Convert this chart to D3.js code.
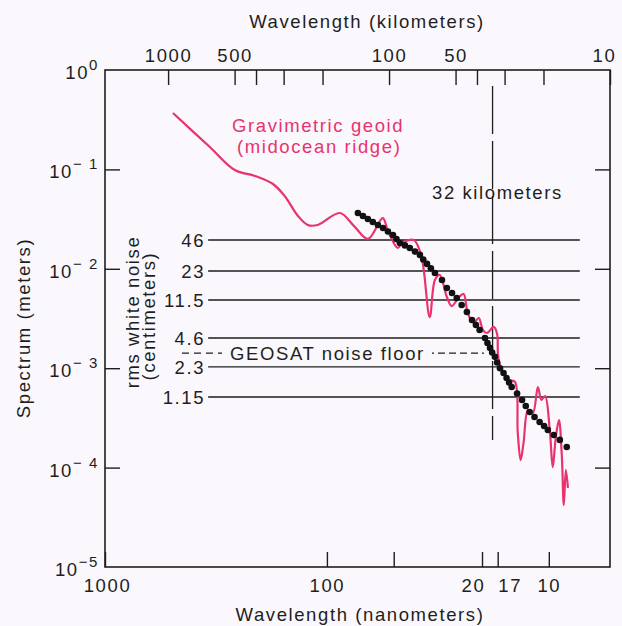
<!DOCTYPE html>
<html><head><meta charset="utf-8">
<script src="https://cdn.jsdelivr.net/npm/d3@7"></script>
<style>
html,body{margin:0;padding:0;background:#faf8fc;}
svg{display:block;font-family:"Liberation Sans",Arial,Helvetica,sans-serif;}
</style></head><body><svg id="c" width="622" height="626"></svg>
<script>
// ---- data (bottom axis: wavelength, nm; left axis: spectrum, m) ----
const geoidNm   = [494,337,260,211,175,155,135,122,110,87.4,75.6,65.3,56.0,53.1,47.9,45.9,40.6,38.9,37.0,34.4,32.6,31.0,28.8,27.4,25.4,24.2,23.2,21.8,20.7,19.8,19.0,17.7,17.1,16.9,16.1,15.0,14.2,13.8,13.4,13.0,12.4,11.8,11.2,10.8,10.4,9.9,9.6,9.3,9.0,8.74,8.56,8.38,8.20];
const geoidSpec = [0.369,0.168,0.0986,0.0859,0.0713,0.054,0.034,0.0276,0.0276,0.0364,0.027,0.020,0.0324,0.024,0.0162,0.0182,0.0195,0.0170,0.0114,0.00327,0.0077,0.00866,0.0052,0.00422,0.0052,0.00558,0.00359,0.00285,0.0032,0.00242,0.00226,0.00260,0.00221,0.0013,0.000895,0.00076,0.000726,0.000223,0.000119,0.000177,0.000380,0.000354,0.000647,0.000479,0.000525,0.000239,0.000101,0.000203,0.000301,0.000134,0.000042,0.0000946,0.0000624];
const modelNm   = [72.5,68.8,65.4,62.1,58.9,55.9,53.1,50.4,48.6,46.9,44.5,42.3,40.1,38.1,36.8,35.4,34.0,32.6,30.3,28.8,27.3,26.0,24.7,23.4,22.2,21.3,20.5,19.4,18.9,18.4,18.0,17.5,17.1,16.6,16.0,15.5,15.1,14.7,13.9,13.2,12.7,12.2,11.6,11.0,10.5,10.1,9.50,8.92,8.30];
const modelSpec = [0.0364,0.0340,0.0317,0.0296,0.0276,0.0257,0.0237,0.0219,0.0199,0.0182,0.0172,0.0162,0.0149,0.0138,0.0124,0.0112,0.0101,0.00907,0.00771,0.00641,0.00571,0.00508,0.00432,0.00368,0.00305,0.00272,0.00242,0.00201,0.00179,0.00160,0.00144,0.00130,0.00114,0.00100,0.000895,0.000797,0.000718,0.000647,0.000557,0.000479,0.000417,0.000363,0.000323,0.000288,0.000262,0.000239,0.000213,0.000190,0.000161];
const noiseLabels = ["46","23","11.5","4.6","2.3","1.15"];
const noiseSpec   = [0.0195,0.0095,0.00485,0.00201,0.00103,0.000513];
const geosatFloor = 0.00142;
const yTicks  = [1,0.1,0.01,0.001,0.0001,0.00001];
const yExpLabels = ["0","− 1","− 2","− 3","− 4","−5"];
const bottomTicks  = [1000,100,50,20,17,10];
const bottomLabels = ["1000","100","","20","17","10"];
const topTicks  = [1000,500,400,300,200,100,50,40,30,20,10];
const topLabels = ["1000","500","","","","100","50","","","","10"];
const markerKm = 34;
const markerLabel = "32 kilometers";

// ---- layout ----
const W=622,H=626, L=105, R=610, T=70, B=567;
const ink="#1e1e1e", pink="#e8336f";
const svg=d3.select("#c");
svg.append("rect").attr("width",W).attr("height",H).attr("fill","#faf8fc");

const x=d3.scaleLog().domain([1000,5.3]).range([L,R]);
const xTop=d3.scaleLog().domain([1930,10]).range([L,R]);
const y=d3.scaleLog().domain([1e-5,1]).range([B,T]);

const fs=18.5, ls="1.6px";
function styleAxis(g){
  g.select(".domain").remove();
  g.selectAll(".tick line").attr("stroke",ink).attr("stroke-width",1.4);
  g.selectAll(".tick text").attr("fill",ink).attr("font-size",fs).attr("letter-spacing",ls).attr("font-family",null);
}

// top axis
const gt=svg.append("g").attr("transform",`translate(0,${T})`)
  .call(d3.axisTop(xTop).tickValues(topTicks).tickSize(-15).tickPadding(8)
    .tickFormat((d,i)=>topLabels[i]))
  .call(styleAxis);
gt.selectAll(".tick text").attr("dx",d=>d===10?-6:0);
// bottom axis
const gb=svg.append("g").attr("transform",`translate(0,${B})`)
  .call(d3.axisBottom(x).tickValues(bottomTicks).tickSize(-15).tickPadding(12)
    .tickFormat((d,i)=>bottomLabels[i]))
  .call(styleAxis);
gb.selectAll(".tick text").attr("dx",d=>d===20?-9:d===17?12:d===1000?2:0);
// left axis
svg.append("g").attr("transform",`translate(${L},0)`)
  .call(d3.axisLeft(y).tickValues(yTicks.slice(1,5)).tickSize(-15).tickFormat(""))
  .call(styleAxis);
// right axis
svg.append("g").attr("transform",`translate(${R},0)`)
  .call(d3.axisRight(y).tickValues(yTicks.slice(1,5)).tickSize(-15).tickFormat(""))
  .call(styleAxis);
// left tick labels 10^n
const yl=svg.append("g").attr("fill",ink).attr("font-size",fs).attr("letter-spacing",ls);
yTicks.forEach((v,i)=>{
  const t=yl.append("text").attr("x",L-6).attr("y",y(v)+9).attr("text-anchor","end");
  t.append("tspan").text("10");
  t.append("tspan").attr("dy",-9).attr("font-size",15).text(yExpLabels[i]);
});
// frame
svg.append("rect").attr("x",L).attr("y",T).attr("width",R-L).attr("height",B-T)
  .attr("fill","none").attr("stroke",ink).attr("stroke-width",1.6);

// titles
const tt=svg.append("g").attr("fill",ink).attr("font-size",fs).attr("letter-spacing",ls);
tt.append("text").attr("x",367).attr("y",28).attr("text-anchor","middle").text("Wavelength (kilometers)");
tt.append("text").attr("x",360).attr("y",621).attr("text-anchor","middle").text("Wavelength (nanometers)");
tt.append("text").attr("transform","translate(30,328) rotate(-90)").attr("text-anchor","middle").text("Spectrum (meters)");
tt.append("text").attr("transform","translate(139,312) rotate(-90)").attr("text-anchor","middle").text("rms white noise");
tt.append("text").attr("transform","translate(155,316) rotate(-90)").attr("text-anchor","middle").text("(centimeters)");

// noise level lines
const nlFrom=343, nlTo=7.25;
const ng=svg.append("g");
noiseSpec.forEach((v,i)=>{
  ng.append("line").attr("x1",x(nlFrom)).attr("x2",x(nlTo)).attr("y1",y(v)).attr("y2",y(v))
    .attr("stroke",ink).attr("stroke-width",1.4);
  ng.append("text").attr("x",x(nlFrom)-3).attr("y",y(v)).attr("dy","0.36em")
    .attr("text-anchor","end").attr("fill",ink).attr("font-size",fs).attr("letter-spacing",ls).text(noiseLabels[i]);
});
// GEOSAT noise floor
ng.append("line").attr("x1",x(450)).attr("x2",x(297)).attr("y1",y(geosatFloor)).attr("y2",y(geosatFloor))
  .attr("stroke",ink).attr("stroke-width",1.3).attr("stroke-dasharray","7,5");
ng.append("line").attr("x1",x(33.6)).attr("x2",x(18.8)).attr("y1",y(geosatFloor)).attr("y2",y(geosatFloor))
  .attr("stroke",ink).attr("stroke-width",1.3).attr("stroke-dasharray","2,4,7,4,7,4,7,4,7,4");
ng.append("text").attr("x",x(273)).attr("y",y(geosatFloor)).attr("dy","0.36em")
  .attr("fill",ink).attr("font-size",fs).attr("letter-spacing",ls).text("GEOSAT noise floor");

// 32 km marker
svg.append("line").attr("x1",xTop(markerKm)).attr("x2",xTop(markerKm)).attr("y1",y(0.69)).attr("y2",y(0.00019))
  .attr("stroke",ink).attr("stroke-width",1.3).attr("stroke-dasharray","48,7");
svg.append("text").attr("x",432).attr("y",199).attr("fill",ink).attr("font-size",fs).attr("letter-spacing",ls).text(markerLabel);

// geoid curve
const geoid=geoidNm.map((d,i)=>[d,geoidSpec[i]]);
svg.append("path").datum(geoid)
  .attr("d",d3.line().x(d=>x(d[0])).y(d=>y(d[1])).curve(d3.curveCatmullRom.alpha(0.5)))
  .attr("fill","none").attr("stroke",pink).attr("stroke-width",2.2).attr("stroke-linejoin","round");
const gl2=svg.append("g").attr("fill",pink).attr("font-size",fs).attr("letter-spacing",ls);
gl2.append("text").attr("x",232).attr("y",132).text("Gravimetric geoid");
gl2.append("text").attr("x",237).attr("y",153).text("(midocean ridge)");

// model dots
svg.append("g").selectAll("circle").data(modelNm.map((d,i)=>[d,modelSpec[i]])).join("circle")
  .attr("cx",d=>x(d[0])).attr("cy",d=>y(d[1])).attr("r",3.3).attr("fill","#111");
</script></body></html>
